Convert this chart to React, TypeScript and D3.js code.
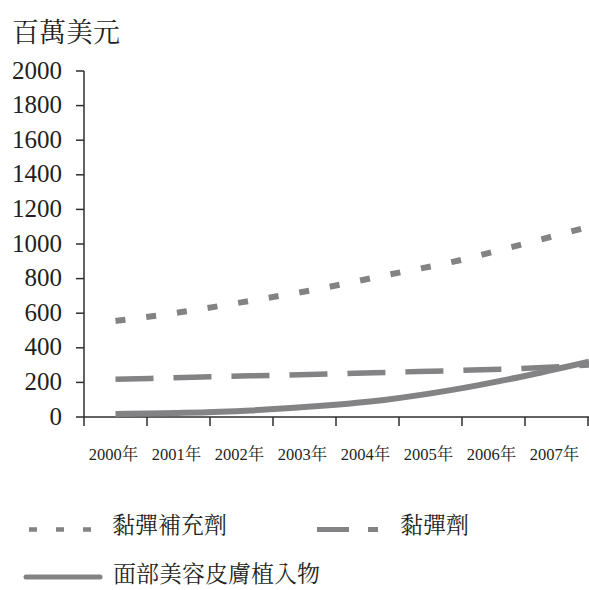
import React from "react";
import * as d3 from "d3";

const years = ["2000年", "2001年", "2002年", "2003年", "2004年", "2005年", "2006年", "2007年"];
const supplement = [555, 608, 672, 740, 820, 898, 997, 1100];
const filler = [218, 228, 238, 247, 258, 268, 281, 300];
const implant = [18, 24, 38, 63, 100, 158, 233, 320];
const yTicks = [0, 200, 400, 600, 800, 1000, 1200, 1400, 1600, 1800, 2000];
const unitLabel = "百萬美元";
const seriesNames = ["黏彈補充劑", "黏彈劑", "面部美容皮膚植入物"];

const W = 589;
const H = 590;
const left = 84;
const right = 588;
const top = 71;
const bottom = 417;
const lineColor = "#838385";
const axisColor = "#2e2e2e";
const textColor = "#231f20";
const font = `"Liberation Serif", "Noto Serif CJK TC", serif`;

export default function App() {
  const xBand = d3.scaleBand<string>().domain(years).range([left, right]).padding(0);
  const xPoint = d3
    .scalePoint<string>()
    .domain(years)
    .range([(xBand(years[0]) as number) + xBand.bandwidth() / 2, right + 1]);
  const y = d3.scaleLinear().domain([0, 2000]).range([bottom, top]);

  const line = d3
    .line<number>()
    .x((_, i) => xPoint(years[i]) as number)
    .y((d) => y(d))
    .curve(d3.curveMonotoneX);

  const boundaries = years.map((yr) => xBand(yr) as number).concat([right]);
  const ts = { fontFamily: font };

  return (
    <svg
      width={W}
      height={H}
      style={{ position: "absolute", left: 0, top: 0, background: "#fff", fontFamily: font }}
    >
      <text x={12} y={42} fontSize={27} fill={textColor} style={ts}>
        {unitLabel}
      </text>

      {/* y axis */}
      <line x1={left} x2={left} y1={y(2000)} y2={bottom} stroke={axisColor} strokeWidth={1.5} />
      {yTicks.map((t) => (
        <g key={t}>
          <line x1={left - 8} x2={left} y1={y(t)} y2={y(t)} stroke={axisColor} strokeWidth={1.5} />
          <text x={62} y={y(t) + 7.5} fontSize={25} textAnchor="end" fill={textColor} style={ts}>
            {t}
          </text>
        </g>
      ))}

      {/* x axis */}
      <line x1={left} x2={right + 1} y1={bottom} y2={bottom} stroke={axisColor} strokeWidth={1.5} />
      {boundaries.map((b, i) => (
        <line key={i} x1={b} x2={b} y1={bottom} y2={bottom + 9} stroke={axisColor} strokeWidth={1.5} />
      ))}
      {years.map((yr) => (
        <text
          key={yr}
          x={(xBand(yr) as number) + xBand.bandwidth() / 2 - 2}
          y={460}
          fontSize={16.5}
          textAnchor="middle"
          fill={textColor}
          style={ts}
        >
          {yr}
        </text>
      ))}

      {/* series */}
      <path d={line(supplement) || ""} fill="none" stroke={lineColor} strokeWidth={6} strokeDasharray="10 21" />
      <path d={line(filler) || ""} fill="none" stroke={lineColor} strokeWidth={5.5} strokeDasharray="38 20" />
      <path d={line(implant) || ""} fill="none" stroke={lineColor} strokeWidth={6} />

      {/* legend */}
      <line x1={29} x2={92} y1={529.5} y2={529.5} stroke={lineColor} strokeWidth={4.5} strokeDasharray="8 19" />
      <text x={112} y={533} fontSize={23} fill={textColor} style={ts}>
        {seriesNames[0]}
      </text>
      <line x1={317} x2={378} y1={529.5} y2={529.5} stroke={lineColor} strokeWidth={5} strokeDasharray="32 19" />
      <text x={400} y={533} fontSize={23} fill={textColor} style={ts}>
        {seriesNames[1]}
      </text>
      <line x1={26} x2={100} y1={577} y2={577} stroke={lineColor} strokeWidth={5} strokeLinecap="round" />
      <text x={113} y={582} fontSize={23} fill={textColor} style={ts}>
        {seriesNames[2]}
      </text>
    </svg>
  );
}
